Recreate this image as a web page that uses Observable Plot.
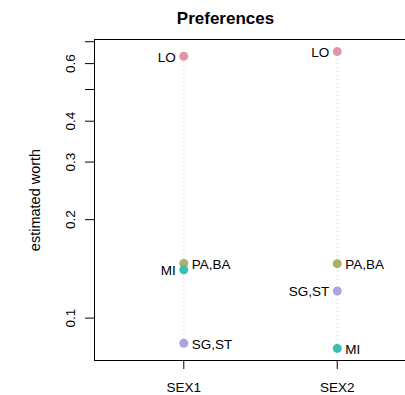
<!DOCTYPE html>
<html>
<head>
<meta charset="utf-8">
<script src="https://cdn.jsdelivr.net/npm/d3@7"></script>
<script src="https://cdn.jsdelivr.net/npm/@observablehq/plot@0.6"></script>
<style>
  html, body { margin: 0; padding: 0; background: #fff; }
  #chart svg { display: block; font-family: "Liberation Sans", Arial, Helvetica, sans-serif; }
</style>
</head>
<body>
<div id="chart"></div>
<script>
// ---- data ----
const categories = ["SEX1", "SEX2"];
const items = ["LO", "PA,BA", "MI", "SG,ST"];
const worthSEX1 = [0.632, 0.147, 0.1405, 0.0838];
const worthSEX2 = [0.653, 0.1467, 0.0808, 0.121];
const itemColors = ["#E495A5", "#ABB065", "#39BEB1", "#ACA4E2"];
const yTicks = [0.1, 0.2, 0.3, 0.4, 0.5, 0.6, 0.7];
const yTickLabels = [0.1, 0.2, 0.3, 0.4, 0.6];
const title = "Preferences";
const yLabel = "estimated worth";

// ---- build table ----
const series = [worthSEX1, worthSEX2];
const rows = [];
categories.forEach((c, ci) => {
  items.forEach((it, ii) => {
    rows.push({cat: c, xi: ci + 1, item: it, worth: series[ci][ii], color: itemColors[ii]});
  });
});
// label placement (left / right of point)
const labelLeft = new Set(["SEX1|LO", "SEX1|MI", "SEX2|LO", "SEX2|SG,ST"]);
const leftRows = rows.filter(d => labelLeft.has(d.cat + "|" + d.item));
const rightRows = rows.filter(d => !labelLeft.has(d.cat + "|" + d.item));
const spans = categories.map((c, ci) => ({xi: ci + 1, lo: d3.min(series[ci]), hi: d3.max(series[ci])}));

const fs = 13.5;
const chart = Plot.plot({
  width: 405,
  height: 395,
  marginLeft: 94,
  marginRight: 0,
  marginTop: 39,
  marginBottom: 35,
  style: {fontFamily: '"Liberation Sans", Arial, Helvetica, sans-serif', fontSize: fs + "px", color: "#000", background: "#fff"},
  x: {type: "linear", domain: [0.418, 2.445], axis: null},
  y: {type: "log", domain: [0.0742, 0.711], axis: null},
  marks: [
    // dotted guide lines
    Plot.ruleX(spans, {x: "xi", y1: "lo", y2: "hi", stroke: "#c8c8c8", strokeWidth: 1, strokeDasharray: "1,3"}),
    // frame: top, left, bottom
    Plot.frame({anchor: "top", stroke: "#000", strokeWidth: 1}),
    Plot.frame({anchor: "left", stroke: "#000", strokeWidth: 1}),
    Plot.frame({anchor: "bottom", stroke: "#000", strokeWidth: 1}),
    // y axis ticks
    Plot.axisY({ticks: yTicks, tickSize: 9, tickFormat: () => "", label: null, stroke: "#000"}),
    Plot.text(yTickLabels, {y: d => d, frameAnchor: "left", text: d => String(d), rotate: -90, dx: -20, textAnchor: "middle", lineAnchor: "bottom", fontSize: fs, fill: "#000"}),
    // x axis
    Plot.axisX({ticks: [1, 2], tickFormat: d => categories[d - 1], tickSize: 9, tickPadding: 13, label: null, fontSize: fs, stroke: "#000", fill: "#000"}),
    // points
    Plot.dot(rows, {x: "xi", y: "worth", r: 4.5, fill: "color", stroke: null}),
    // labels
    Plot.text(leftRows, {x: "xi", y: "worth", text: "item", textAnchor: "end", dx: -8, dy: 1, fontSize: fs, fill: "#000"}),
    Plot.text(rightRows, {x: "xi", y: "worth", text: "item", textAnchor: "start", dx: 8, dy: 1, fontSize: fs, fill: "#000"}),
    // title
    Plot.text([title], {frameAnchor: "top", text: d => d, dx: -24.5, dy: -16, lineAnchor: "bottom", fontWeight: "bold", fontSize: 17, fill: "#000"}),
    // y label
    Plot.text([yLabel], {frameAnchor: "left", text: d => d, rotate: -90, dx: -55, textAnchor: "middle", lineAnchor: "bottom", fontSize: 14.5, fill: "#000"})
  ]
});
document.getElementById("chart").appendChild(chart);
</script>
</body>
</html>
